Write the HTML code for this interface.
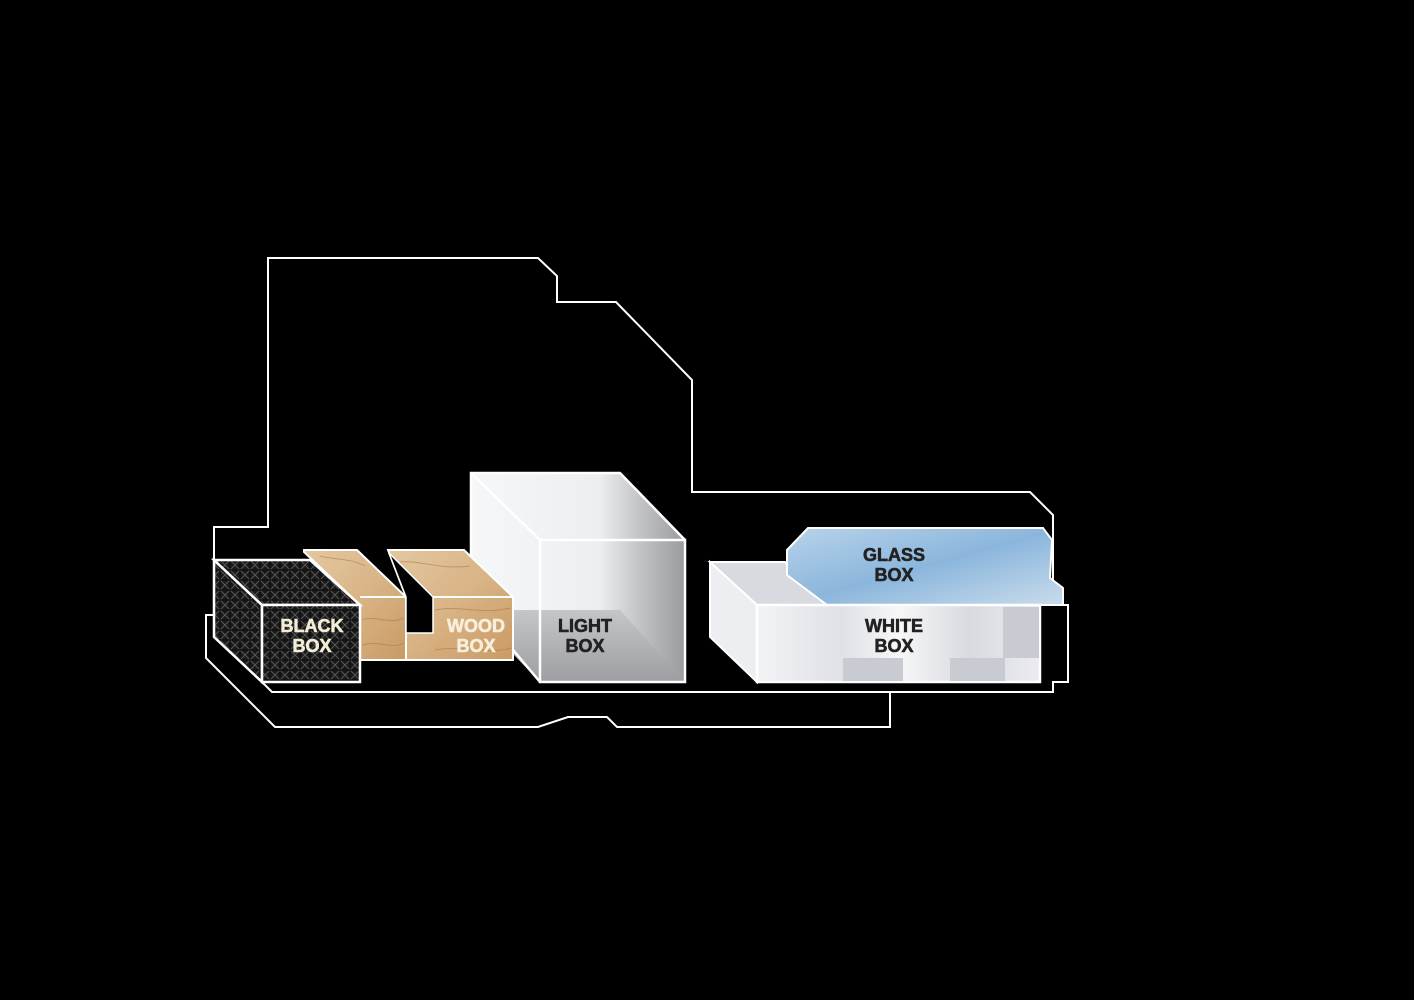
<!DOCTYPE html>
<html><head><style>body{margin:0;background:#000}svg{display:block}</style></head><body>
<svg width="1414" height="1000" viewBox="0 0 1414 1000" xmlns="http://www.w3.org/2000/svg">
<defs>
<pattern id="pyr" width="10" height="10" patternUnits="userSpaceOnUse"><rect width="10" height="10" fill="#1a1a1a"/><path d="M0 0L10 10M10 0L0 10" stroke="#555" stroke-width="1"/><rect x="0" y="0" width="10" height="10" fill="none" stroke="#0a0a0a" stroke-width="1"/></pattern>
<linearGradient id="wood" x1="0" y1="0" x2="1" y2="1"><stop offset="0" stop-color="#e3c8a2"/><stop offset="0.5" stop-color="#d9b486"/><stop offset="1" stop-color="#c99a64"/></linearGradient>
<linearGradient id="lightR" x1="0" y1="0" x2="1" y2="0"><stop offset="0" stop-color="#f6f7f9"/><stop offset="0.6" stop-color="#eceef0"/><stop offset="0.78" stop-color="#c4c5c9"/><stop offset="1" stop-color="#9a9b9f"/></linearGradient>
<linearGradient id="floor" x1="0" y1="0" x2="0" y2="1"><stop offset="0" stop-color="#c4c6c8"/><stop offset="1" stop-color="#9c9ea1"/></linearGradient>
<linearGradient id="glass" x1="0" y1="0" x2="1" y2="1"><stop offset="0" stop-color="#b8d3ea"/><stop offset="0.5" stop-color="#8bb6dc"/><stop offset="1" stop-color="#c9dcec"/></linearGradient>
<linearGradient id="wb" x1="0" y1="0" x2="1" y2="0"><stop offset="0" stop-color="#f2f3f5"/><stop offset="0.3" stop-color="#dfe1e7"/><stop offset="0.5" stop-color="#f7f7f8"/><stop offset="0.75" stop-color="#d8dae0"/><stop offset="1" stop-color="#ececf0"/></linearGradient>
</defs>
<g fill="none" stroke="#fff" stroke-width="2">
<path d="M268 258H538L557 276V302H616L692 380V492H1030L1053 515V605H1068V682H1053V692H890V727H617L607 717H568L538 727H275L206 658V615H214V527H268Z"/>
<path d="M262 682L272 692H890"/>
</g>
<polygon points="471,473 620,473 685,540 685,682 540,682 471,610" fill="url(#lightR)"/>
<polygon points="471,610 620,610 685,682 540,682" fill="url(#floor)"/>
<g fill="none" stroke="#fff" stroke-width="2.5">
<polyline points="471,610 471,473 620,473 685,540"/>
<rect x="540" y="540" width="145" height="142"/>
<line x1="471" y1="473" x2="540" y2="540"/>
<line x1="471" y1="600" x2="540" y2="682"/>
</g>
<g stroke="#fff" stroke-width="2" fill="url(#wood)">
<polygon points="304,550 357,550 406,597 406,660 360,660 360,605 304,552"/>
<polygon points="388,550 464,550 513,597 513,660 406,660 406,597"/>
</g>
<g stroke="#b07a45" stroke-width="1" fill="none" opacity="0.6">
<path d="M362 620C375 615 390 625 404 618M362 645C380 640 392 650 404 643M435 610C460 605 480 615 511 608M435 650C460 645 490 655 511 648M400 562C420 560 440 570 470 566M320 556C335 560 350 558 365 566"/>
</g>
<g stroke="#fff" stroke-width="2"><line x1="360" y1="597" x2="406" y2="597"/><line x1="432" y1="597" x2="513" y2="597"/></g>
<polygon points="389,553 433,597 433,633 406,633 406,597" fill="#000" stroke="#fff" stroke-width="1.5"/>
<g stroke="#fff" stroke-width="2.5" fill="url(#pyr)">
<polygon points="214,560 262,605 262,682 214,637"/>
<polygon points="214,560 310,560 360,605 262,605"/>
<rect x="262" y="605" width="98" height="77"/>
</g>
<polygon points="710,562 785,562 830,605 757,605" fill="#d8dae0" stroke="#fff" stroke-width="2"/>
<polygon points="710,562 757,605 757,682 710,637" fill="#eceef1" stroke="#fff" stroke-width="2"/>
<polygon points="787,550 808,528 1043,528 1052,540 1050,578 1063,588 1063,605 827,605 787,575" fill="url(#glass)" stroke="#fff" stroke-width="2"/>
<rect x="757" y="605" width="283" height="77" fill="url(#wb)" stroke="#fff" stroke-width="2.5"/>
<rect x="843" y="658" width="60" height="23" fill="#c9cbd3"/>
<rect x="950" y="658" width="55" height="23" fill="#c9cbd3"/>
<rect x="1003" y="607" width="36" height="51" fill="#c9cbd3"/>
<g font-family="Liberation Sans, sans-serif" font-weight="bold" font-size="18" text-anchor="middle" stroke-width="0.6">
<text x="312" y="632" fill="#f3ecd6" stroke="#f3ecd6">BLACK</text><text x="312" y="652" fill="#f3ecd6" stroke="#f3ecd6">BOX</text>
<text x="476" y="632" fill="#f7efdc" stroke="#f7efdc">WOOD</text><text x="476" y="652" fill="#f7efdc" stroke="#f7efdc">BOX</text>
<text x="585" y="632" fill="#222" stroke="#222">LIGHT</text><text x="585" y="652" fill="#222" stroke="#222">BOX</text>
<text x="894" y="561" fill="#222" stroke="#222">GLASS</text><text x="894" y="581" fill="#222" stroke="#222">BOX</text>
<text x="894" y="632" fill="#222" stroke="#222">WHITE</text><text x="894" y="652" fill="#222" stroke="#222">BOX</text>
</g>
</svg>
</body></html>
